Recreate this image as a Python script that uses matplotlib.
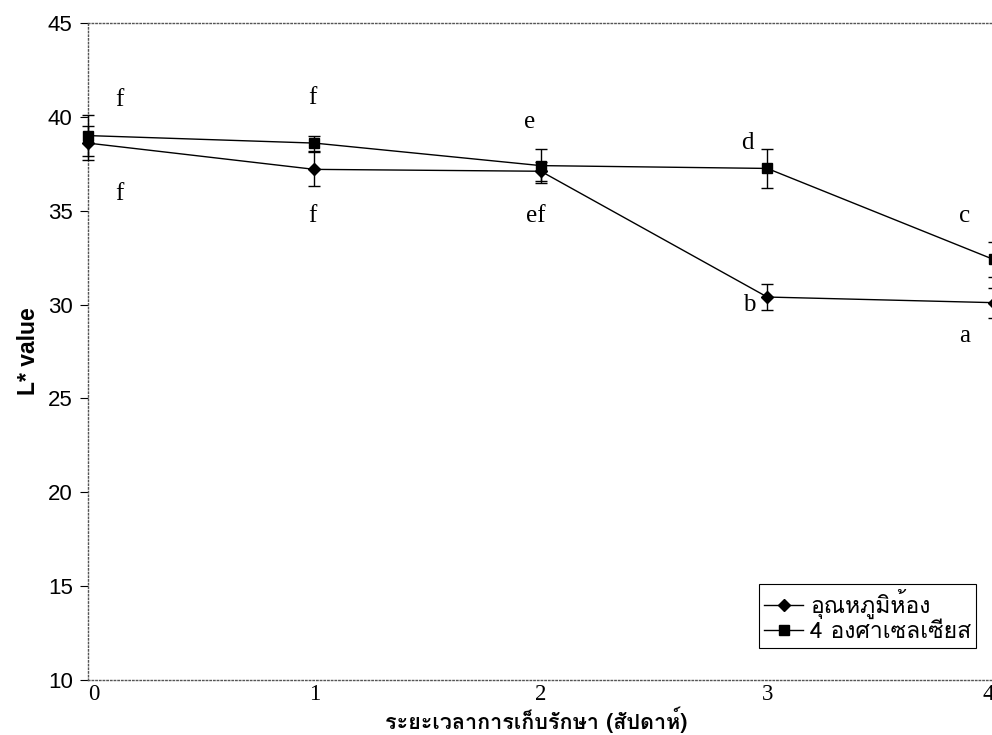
import numpy as np
import matplotlib.pyplot as plt
from matplotlib import font_manager, ft2font


def thai_font():
    # first installed font that has Thai glyphs
    for f in font_manager.fontManager.ttflist:
        try:
            if 0x0E01 in ft2font.FT2Font(f.fname).get_charmap():
                return f.name
        except Exception:
            pass
    return 'DejaVu Sans'


TH = thai_font()

weeks = [0, 1, 2, 3, 4]
room = [38.6, 37.2, 37.1, 30.4, 30.1]
room_err = [0.9, 0.9, 0.5, 0.7, 0.8]
cold = [39.0, 38.6, 37.4, 37.25, 32.4]
cold_err = [1.1, 0.4, 0.9, 1.05, 0.95]

room_letters = ['f', 'f', 'ef', 'b', 'a']
room_lab_x = [0.14, 0.99, 1.98, 2.92, 3.87]
room_lab_y = [35.9, 34.7, 34.7, 30.0, 28.3]
cold_letters = ['f', 'f', 'e', 'd', 'c']
cold_lab_x = [0.14, 0.99, 1.95, 2.91, 3.87]
cold_lab_y = [40.9, 41.0, 39.7, 38.6, 34.7]

fig = plt.figure(figsize=(9.92, 7.35), dpi=100)
ax = fig.add_axes([0.0887, 0.0748, 0.913, 0.894])

ax.errorbar(weeks, room, yerr=room_err, color='black', marker='D', markersize=6,
            linewidth=1, elinewidth=1, capsize=4, clip_on=False, zorder=3)
ax.errorbar(weeks, cold, yerr=cold_err, color='black', marker='s', markersize=7,
            linewidth=1, elinewidth=1, capsize=4, clip_on=False, zorder=3)
# legend handles without the error bars
ax.plot([], [], color='black', marker='D', markersize=6, linewidth=1, label='อุณหภูมิห้อง')
ax.plot([], [], color='black', marker='s', markersize=7, linewidth=1, label='4 องศาเซลเซียส')

for x, y, t in zip(room_lab_x, room_lab_y, room_letters):
    ax.text(x, y, t, ha='center', va='center', fontsize=18, family='Liberation Serif')
for x, y, t in zip(cold_lab_x, cold_lab_y, cold_letters):
    ax.text(x, y, t, ha='center', va='center', fontsize=18, family='Liberation Serif')

ax.set_xlim(0, 4)
ax.set_ylim(10, 45)
ax.set_yticks(np.arange(10, 46, 5))
ax.set_xticks(weeks)
ax.set_xticklabels([str(w) for w in weeks], family='Liberation Serif', fontsize=16.5)
xl = ax.get_xticklabels()
xl[0].set_ha('left')
xl[-1].set_ha('right')
ax.tick_params(axis='x', length=0, pad=3)
ax.tick_params(axis='y', direction='out', length=6, labelsize=16, pad=5)
for lab in ax.get_yticklabels():
    lab.set_family('Liberation Sans')

for s in ax.spines.values():
    s.set_linestyle(':')
    s.set_color('#555555')
    s.set_linewidth(1)

ax.set_ylabel('L* value', fontsize=16.5, fontweight='bold', family='Liberation Sans', labelpad=6)
ax.set_xlabel('ระยะเวลาการเก็บรักษา (สัปดาห์)', fontsize=15.5, fontweight='bold',
              family=[TH, 'DejaVu Sans'], va='bottom')
ax.xaxis.set_label_coords(0.495, -0.081)

leg = ax.legend(loc='lower right', bbox_to_anchor=(0.98, 0.049), prop={'family': [TH, 'DejaVu Sans'], 'size': 16.5},
                handlelength=1.7, handletextpad=0.3, borderpad=0.2, labelspacing=0.15, borderaxespad=0,
                fancybox=False, edgecolor='black', framealpha=1)
leg.get_frame().set_linewidth(0.8)

fig.savefig('out.png', dpi=100)
